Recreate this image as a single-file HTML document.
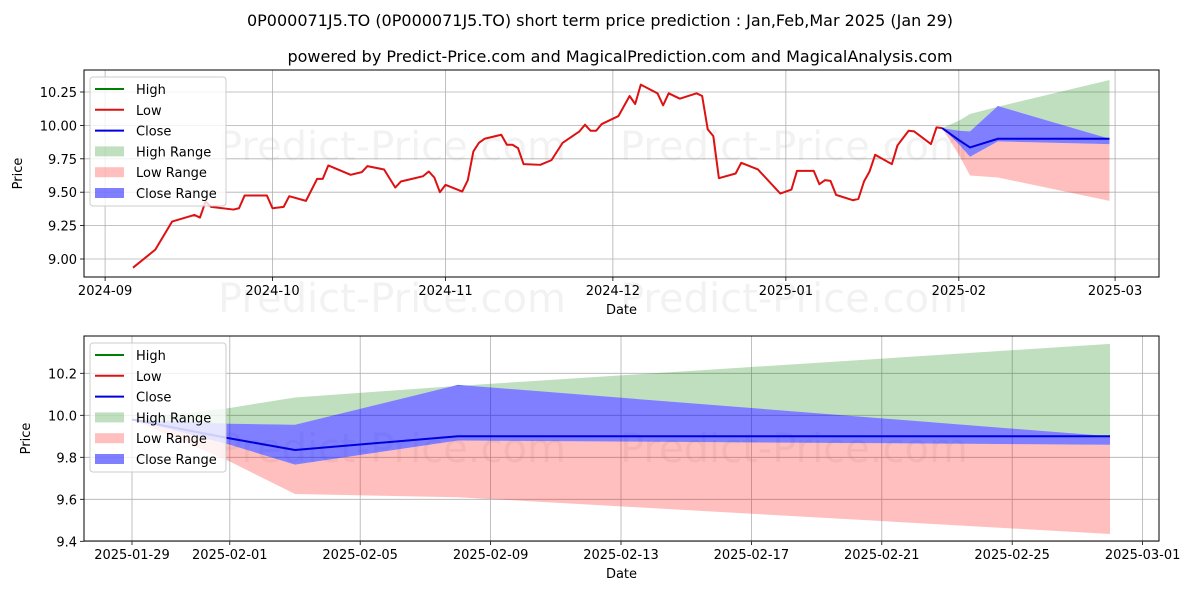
<!DOCTYPE html>
<html><head><meta charset="utf-8"><style>
body{margin:0;background:#fff;}
svg{display:block;font-family:"DejaVu Sans","Liberation Sans",sans-serif;}
</style></head><body>
<svg id="chart" width="1200" height="600" viewBox="0 0 1200 600" xmlns="http://www.w3.org/2000/svg">
<text x="600" y="26" text-anchor="middle" font-size="16" fill="#000">0P000071J5.TO (0P000071J5.TO) short term price prediction : Jan,Feb,Mar 2025 (Jan 29)</text>
<text x="620" y="62" text-anchor="middle" font-size="16" fill="#000">powered by Predict-Price.com and MagicalPrediction.com and MagicalAnalysis.com</text>
<g id="wm" font-size="40" fill="#000" fill-opacity="0.05">
<text x="218" y="160">Predict-Price.com</text><text x="620" y="160">Predict-Price.com</text>
<text x="218" y="312">Predict-Price.com</text><text x="620" y="312">Predict-Price.com</text>
<text x="218" y="462">Predict-Price.com</text><text x="620" y="462">Predict-Price.com</text>
</g>
<g id="top"></g>
<g id="bot"></g>
</svg>
<script>
// historical Low series: days since 2024-09-01
const histDays=[5,9,12,16,17,18,19,23,24,25,29,30,32,33,36,38,39,40,44,46,47,50,52,53,55,57,58,59,60,61,64,65,66,67,68,71,72,73,74,75,78,80,82,85,86,87,88,89,92,94,95,96,99,100,101,103,106,107,108,109,110,113,114,117,121,123,124,127,128,129,130,131,134,135,136,137,138,141,142,144,145,148,149,150];
const histLow=[8.935,9.07,9.28,9.33,9.31,9.43,9.39,9.37,9.38,9.475,9.475,9.38,9.39,9.47,9.435,9.60,9.60,9.70,9.63,9.65,9.695,9.67,9.535,9.58,9.60,9.62,9.655,9.61,9.50,9.555,9.505,9.59,9.805,9.87,9.90,9.93,9.855,9.855,9.83,9.71,9.705,9.74,9.87,9.955,10.005,9.96,9.96,10.01,10.07,10.22,10.16,10.305,10.24,10.15,10.24,10.2,10.24,10.22,9.97,9.92,9.605,9.64,9.72,9.67,9.49,9.52,9.66,9.66,9.56,9.59,9.585,9.48,9.44,9.45,9.58,9.655,9.78,9.71,9.85,9.96,9.955,9.86,9.985,9.98];
// forecast: days since 2025-01-29
const fcDays=[0,3,5,10,30];
const fcClose=[9.98,9.89,9.835,9.90,9.90];
const fcCloseHi=[9.98,9.96,9.955,10.145,9.90];
const fcCloseLo=[9.98,9.86,9.765,9.88,9.86];
const fcHighHi=[9.98,10.035,10.085,10.14,10.34];
const fcLowLo=[9.98,9.78,9.625,9.61,9.435];
const topTicksY=[9.00,9.25,9.50,9.75,10.00,10.25];
const topTicksX=[["2024-09",0],["2024-10",30],["2024-11",61],["2024-12",91],["2025-01",122],["2025-02",153],["2025-03",181]];
const botTicksY=[9.4,9.6,9.8,10.0,10.2];
const botTicksX=[["2025-01-29",0],["2025-02-01",3],["2025-02-05",7],["2025-02-09",11],["2025-02-13",15],["2025-02-17",19],["2025-02-21",23],["2025-02-25",27],["2025-03-01",31]];
const NS="http://www.w3.org/2000/svg";
function mk(p,t,a){const e=document.createElementNS(NS,t);for(const k in a)e.setAttribute(k,a[k]);p.appendChild(e);return e;}
function panel(g,L,R,T,B,xf,yf,ticksX,ticksY,fmt,fcOff,hist,labelY){
  ticksX.forEach(t=>{const x=xf(t[1]);
    const l=mk(g,'line',{x1:x,x2:x,y1:T,y2:B,stroke:'#b0b0b0','stroke-width':0.8});
    
    mk(g,'line',{x1:x,x2:x,y1:B,y2:B+4,stroke:'#000','stroke-width':0.8});
    const tx=mk(g,'text',{x:x,y:B+18,'text-anchor':'middle','font-size':13});tx.textContent=t[0];
    });
  ticksY.forEach(v=>{const y=yf(v);
    const l=mk(g,'line',{x1:L,x2:R,y1:y,y2:y,stroke:'#b0b0b0','stroke-width':0.8});
    
    mk(g,'line',{x1:L-4,x2:L,y1:y,y2:y,stroke:'#000','stroke-width':0.8});
    const tx=mk(g,'text',{x:L-7,y:y+5,'text-anchor':'end','font-size':13});tx.textContent=v.toFixed(fmt);
    });
  const fx=i=>xf(fcDays[i]+fcOff);
  function band(up,lo,col,op,name){
    let d='';fcDays.forEach((_,i)=>{d+=(i?'L':'M')+fx(i)+','+yf(up[i]);});
    for(let i=fcDays.length-1;i>=0;i--)d+='L'+fx(i)+','+yf(lo[i]);
    const p=mk(g,'path',{d:d+'Z',fill:col,'fill-opacity':op});
    }
  band(fcHighHi,fcCloseHi,'#008000',0.25,'high-range-band');
  band(fcCloseLo,fcLowLo,'#ff0000',0.25,'low-range-band');
  band(fcCloseHi,fcCloseLo,'#0000ff',0.5,'close-range-band');
  if(hist){let d='';histDays.forEach((dd,i)=>{d+=(i?'L':'M')+xf(dd)+','+yf(histLow[i]);});
    const p=mk(g,'path',{d:d,fill:'none',stroke:'#dd1111','stroke-width':2,'stroke-linejoin':'round'});
    }
  let d='';fcDays.forEach((_,i)=>{d+=(i?'L':'M')+fx(i)+','+yf(fcClose[i]);});
  const cl=mk(g,'path',{d:d,fill:'none',stroke:'#0000dd','stroke-width':2});
  
  const fr=mk(g,'rect',{x:L,y:T,width:R-L,height:B-T,fill:'none',stroke:'#000','stroke-width':1});
  
  const xl=mk(g,'text',{x:(L+R)/2,y:B+37,'text-anchor':'middle','font-size':13});xl.textContent='Date';
  
  const yl=mk(g,'text',{x:0,y:0,'text-anchor':'middle','font-size':13,transform:`translate(${labelY},${(T+B)/2}) rotate(-90)`});yl.textContent='Price';
  
  const lg=mk(g,'g',{});
  
  mk(lg,'rect',{x:L+6,y:T+7,width:136,height:129,rx:3,fill:'#fff','fill-opacity':0.8,stroke:'#ccc'});
  const items=[['High','#008000','l'],['Low','#dd1111','l'],['Close','#0000dd','l'],['High Range','rgba(0,128,0,0.25)','b'],['Low Range','rgba(255,0,0,0.25)','b'],['Close Range','rgba(0,0,255,0.5)','b']];
  items.forEach((it,i)=>{const y=T+19+i*20.8;
    if(it[2]=='l')mk(lg,'line',{x1:L+11,x2:L+40,y1:y,y2:y,stroke:it[1],'stroke-width':2});
    else mk(lg,'rect',{x:L+11,y:y-5,width:29,height:10,fill:it[1]});
    const t=mk(lg,'text',{x:L+52,y:y+5,'font-size':13});t.textContent=it[0];
    });
}
panel(document.getElementById('top'),84,1159,70,277,d=>105.1+5.58*d,v=>125.4-(v-10)*133.6,topTicksX,topTicksY,2,150,true,22);
panel(document.getElementById('bot'),84,1159,336,541,t=>132+32.6*t,v=>415.3-(v-10)*210,botTicksX,botTicksY,1,0,false,30);
</script>
</body></html>
